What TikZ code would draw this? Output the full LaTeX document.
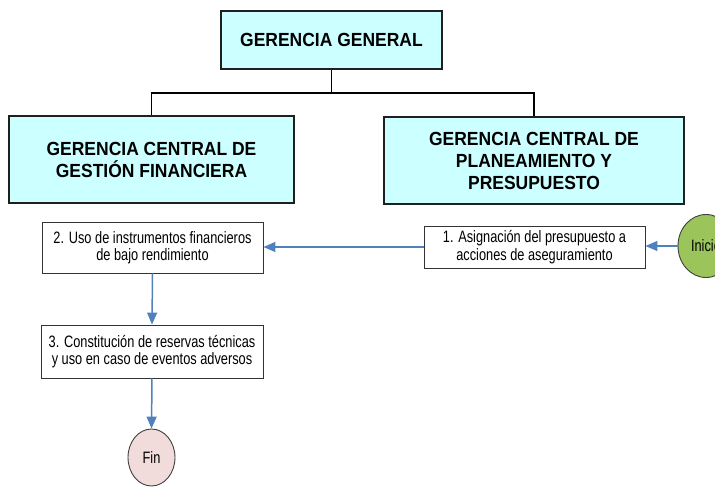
\documentclass[tikz,border=0pt]{standalone}
\usepackage{fontspec}
\setmainfont{Liberation Sans}
\newfontfamily\narrowfont[FakeStretch=0.775]{Liberation Sans}
\newfontfamily\titlefont[FakeStretch=0.92]{Liberation Sans}
\usetikzlibrary{arrows.meta,shapes.geometric}
\definecolor{cyanfill}{HTML}{CCFFFF}
\definecolor{arrowblue}{HTML}{4F81BD}
\definecolor{startgreen}{HTML}{9BC45A}
\definecolor{endpink}{HTML}{F2DCDB}
\tikzset{
  orgbox/.style={draw=black!88, line width=1.8pt, fill=cyanfill, align=center,
    inner sep=0pt, font=\titlefont\bfseries\fontsize{19}{22}\selectfont},
  procbox/.style={draw=black!80, line width=0.9pt, fill=white, align=center,
    inner sep=0pt, font=\narrowfont\fontsize{16.5}{17.5}\selectfont},
  terminal/.style={ellipse, draw=black!75, line width=0.9pt, inner sep=0pt,
    font=\narrowfont\fontsize{16.5}{17.5}\selectfont},
  orgline/.style={draw=black, line width=1.4pt},
  flow/.style={draw=arrowblue, line width=1.5pt, -{Triangle[length=12pt,width=10pt]}}
}
\begin{document}
\begin{tikzpicture}[x=1pt,y=-1pt]
\useasboundingbox (0,0) rectangle (715,487);
\node[orgbox, minimum width=221pt, minimum height=58pt, font=\titlefont\bfseries\fontsize{19}{22}\selectfont] (gg) at (331.5,40) {GERENCIA GENERAL};
\node[orgbox, minimum width=285pt, minimum height=87pt] (gf) at (151.5,159.5) {GERENCIA CENTRAL DE\\GESTIÓN FINANCIERA};
\node[orgbox, minimum width=300pt, minimum height=87pt] (gp) at (534,160.5) {GERENCIA CENTRAL DE\\PLANEAMIENTO Y\\PRESUPUESTO};
\coordinate (bus) at (331.5,93);
\draw[orgline] (gg.south) -- (bus);
\draw[orgline] (bus) -| (gf.north);
\draw[orgline] (bus) -| (gp.north);

\node[procbox, minimum width=221pt, minimum height=51pt] (p2) at (152.5,247.5) {2. Uso de instrumentos financieros\\de bajo rendimiento};
\node[procbox, minimum width=221pt, minimum height=42pt] (p1) at (534.5,247) {1. Asignación del presupuesto a\\acciones de aseguramiento};
\node[procbox, minimum width=222pt, minimum height=53pt] (p3) at (152,351.5) {3. Constitución de reservas técnicas\\y uso en caso de eventos adversos};
\node[terminal, fill=startgreen, minimum width=56pt, minimum height=63pt] (ini) at (706,246) {Inicio};
\node[terminal, fill=endpink, minimum width=47pt, minimum height=57pt] (fin) at (151.5,457.5) {Fin};

\draw[flow] (ini.west) -- (p1.east |- ini.west);
\draw[flow] (p1.west) -- (p2.east |- p1.west);
\draw[flow] (p2.south) -- (p3.north);
\draw[flow] (p3.south) -- (fin.north);
\end{tikzpicture}
\end{document}
